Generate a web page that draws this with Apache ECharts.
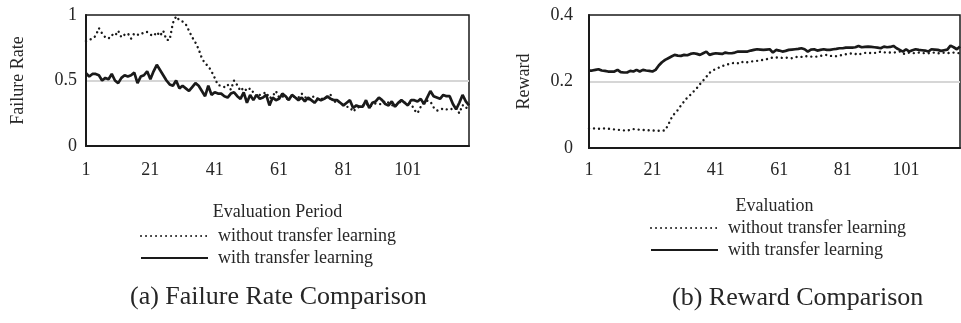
<!DOCTYPE html>
<html>
<head>
<meta charset="utf-8">
<script src="https://cdn.jsdelivr.net/npm/echarts@6/dist/echarts.min.js"></script>
<style>
  html, body { margin: 0; padding: 0; background: #fff; }
  #chart { width: 961px; height: 323px; }
</style>
</head>
<body>
<div id="chart"></div>
<script>
// (a) failure rate, 120 evaluation periods
const failWithout = [
  0.80, 0.81, 0.82, 0.84, 0.90, 0.86, 0.83, 0.82, 0.85, 0.84,
  0.88, 0.83, 0.85, 0.86, 0.82, 0.86, 0.85, 0.85, 0.87, 0.87,
  0.85, 0.84, 0.87, 0.84, 0.88, 0.81, 0.81, 0.94, 0.99, 0.96,
  0.95, 0.93, 0.88, 0.83, 0.79, 0.74, 0.67, 0.63, 0.61, 0.57,
  0.52, 0.465, 0.46, 0.45, 0.47, 0.43, 0.50, 0.465, 0.42, 0.445,
  0.42, 0.44, 0.41, 0.376, 0.39, 0.40, 0.41, 0.364, 0.38, 0.42,
  0.37, 0.38, 0.364, 0.356, 0.39, 0.37, 0.37, 0.40, 0.376, 0.35,
  0.37, 0.38, 0.36, 0.356, 0.37, 0.37, 0.39, 0.33, 0.35, 0.326,
  0.31, 0.30, 0.295, 0.262, 0.288, 0.30, 0.31, 0.326, 0.30, 0.31,
  0.326, 0.32, 0.32, 0.346, 0.33, 0.313, 0.30, 0.33, 0.338, 0.33,
  0.33, 0.326, 0.275, 0.25, 0.30, 0.338, 0.346, 0.34, 0.295, 0.27,
  0.275, 0.288, 0.28, 0.275, 0.288, 0.288, 0.25, 0.313, 0.288, 0.305
];
const failWith = [
  0.555, 0.53, 0.55, 0.55, 0.54, 0.50, 0.52, 0.51, 0.55, 0.50,
  0.48, 0.52, 0.54, 0.53, 0.54, 0.56, 0.48, 0.53, 0.54, 0.57,
  0.51, 0.57, 0.62, 0.58, 0.54, 0.50, 0.47, 0.46, 0.50, 0.44,
  0.46, 0.44, 0.42, 0.45, 0.48, 0.46, 0.42, 0.38, 0.46, 0.39,
  0.41, 0.40, 0.40, 0.38, 0.37, 0.40, 0.41, 0.38, 0.36, 0.41,
  0.33, 0.39, 0.35, 0.39, 0.36, 0.37, 0.39, 0.31, 0.37, 0.35,
  0.36, 0.40, 0.38, 0.35, 0.39, 0.37, 0.35, 0.37, 0.34, 0.37,
  0.35, 0.33, 0.36, 0.35, 0.36, 0.38, 0.36, 0.35, 0.35, 0.33,
  0.31, 0.33, 0.35, 0.29, 0.31, 0.30, 0.30, 0.35, 0.29, 0.33,
  0.34, 0.37, 0.35, 0.32, 0.31, 0.34, 0.30, 0.33, 0.35, 0.33,
  0.31, 0.35, 0.35, 0.34, 0.36, 0.32, 0.37, 0.42, 0.38, 0.37,
  0.36, 0.39, 0.38, 0.38, 0.32, 0.28, 0.33, 0.39, 0.34, 0.31
];

// (b) reward, 118 evaluations
const rewardWithout = [
  0.059, 0.059, 0.059, 0.058, 0.058, 0.059, 0.058, 0.057, 0.056, 0.055,
  0.054, 0.053, 0.052, 0.055, 0.057, 0.056, 0.055, 0.054, 0.054, 0.053,
  0.053, 0.052, 0.052, 0.052, 0.053, 0.070, 0.090, 0.104, 0.114, 0.128,
  0.140, 0.152, 0.160, 0.170, 0.180, 0.192, 0.203, 0.214, 0.226, 0.233,
  0.238, 0.242, 0.246, 0.250, 0.252, 0.255, 0.256, 0.255, 0.260, 0.256,
  0.258, 0.260, 0.261, 0.262, 0.264, 0.265, 0.267, 0.270, 0.272, 0.272,
  0.272, 0.271, 0.272, 0.271, 0.270, 0.273, 0.275, 0.274, 0.277, 0.275,
  0.275, 0.274, 0.275, 0.277, 0.279, 0.280, 0.277, 0.277, 0.276, 0.278,
  0.280, 0.282, 0.283, 0.285, 0.283, 0.280, 0.285, 0.286, 0.287, 0.285,
  0.286, 0.287, 0.290, 0.288, 0.287, 0.287, 0.287, 0.288, 0.290, 0.283,
  0.284, 0.287, 0.285, 0.286, 0.287, 0.286, 0.285, 0.285, 0.286, 0.287,
  0.285, 0.285, 0.287, 0.286, 0.285, 0.287, 0.286, 0.285
];
const rewardWith = [
  0.233, 0.233, 0.235, 0.237, 0.233, 0.232, 0.230, 0.230, 0.230, 0.235,
  0.228, 0.227, 0.227, 0.232, 0.230, 0.235, 0.230, 0.235, 0.233, 0.232,
  0.230, 0.235, 0.248, 0.258, 0.265, 0.270, 0.275, 0.280, 0.278, 0.277,
  0.280, 0.279, 0.283, 0.285, 0.283, 0.280, 0.285, 0.290, 0.280, 0.283,
  0.285, 0.284, 0.283, 0.287, 0.285, 0.285, 0.287, 0.290, 0.290, 0.290,
  0.290, 0.293, 0.295, 0.297, 0.296, 0.295, 0.296, 0.297, 0.287, 0.295,
  0.293, 0.290, 0.292, 0.295, 0.296, 0.297, 0.298, 0.300, 0.297, 0.290,
  0.296, 0.297, 0.293, 0.295, 0.297, 0.295, 0.295, 0.297, 0.298, 0.300,
  0.300, 0.302, 0.302, 0.302, 0.303, 0.307, 0.303, 0.304, 0.305, 0.304,
  0.303, 0.302, 0.300, 0.305, 0.303, 0.304, 0.307, 0.300, 0.295, 0.290,
  0.297, 0.290, 0.294, 0.297, 0.295, 0.294, 0.293, 0.290, 0.297, 0.296,
  0.295, 0.292, 0.294, 0.296, 0.308, 0.303, 0.297, 0.305
];

const periodsA = failWith.map((v, i) => String(i + 1));
const periodsB = rewardWith.map((v, i) => String(i + 1));

const seriesNames = ['without transfer learning', 'with transfer learning'];
const captions = ['(a) Failure Rate Comparison', '(b) Reward Comparison'];

const FONT = '"Liberation Serif", "Times New Roman", serif';
const INK = '#1a1a1a';
const TXT = '#262626';

const chart = echarts.init(document.getElementById('chart'), null, { renderer: 'canvas' });

const xAxisBase = (gridIndex, data, name, nameGap, margin) => ({
  type: 'category',
  gridIndex: gridIndex,
  data: data,
  boundaryGap: false,
  name: name,
  nameLocation: 'middle',
  nameGap: nameGap,
  nameTextStyle: { fontFamily: FONT, fontSize: 18, color: TXT },
  axisLine: { lineStyle: { color: INK, width: 2 } },
  axisTick: { show: false },
  axisLabel: { interval: 19, margin: margin, fontFamily: FONT, fontSize: 18, color: TXT },
  splitLine: { show: false }
});

const yAxisBase = (gridIndex, max, interval, name, nameGap, margin) => ({
  type: 'value',
  gridIndex: gridIndex,
  min: 0,
  max: max,
  interval: interval,
  name: name,
  nameLocation: 'middle',
  nameGap: nameGap,
  nameTextStyle: { fontFamily: FONT, fontSize: 18, color: TXT },
  axisLine: { show: true, lineStyle: { color: INK, width: 2 } },
  axisTick: { show: false },
  axisLabel: { margin: margin, fontFamily: FONT, fontSize: 18, color: TXT },
  splitLine: { show: true, showMinLine: false, showMaxLine: false, lineStyle: { color: '#d6d6d6', width: 2 } }
});

// round dots for the "without" runs
const dotted = { color: INK, width: 2.4, type: [0.01, 5], cap: 'round' };
const solid = { color: INK, width: 2.7 };

const lineSeries = (name, xi, data, style) => ({
  name: name,
  type: 'line',
  xAxisIndex: xi,
  yAxisIndex: xi,
  data: data,
  symbol: 'none',
  showSymbol: false,
  itemStyle: { color: INK },
  lineStyle: style,
  animation: false
});

const legendBase = (left, top) => ({
  orient: 'vertical',
  left: left,
  top: top,
  padding: 0,
  data: seriesNames,
  itemWidth: 67,
  itemHeight: 12,
  itemGap: 4,
  selectedMode: false,
  itemStyle: { opacity: 0 }, // hide the circle echarts puts on line icons
  textStyle: { fontFamily: FONT, fontSize: 18, color: TXT, padding: [0, 0, 0, 5] }
});

const options = {
  backgroundColor: '#fff',
  animation: false,
  grid: [
    { left: 86, top: 15, width: 383, height: 131, show: true, borderColor: INK, borderWidth: 1.5 },
    { left: 589, top: 15, width: 371, height: 133, show: true, borderColor: INK, borderWidth: 1.5 }
  ],
  xAxis: [
    xAxisBase(0, periodsA, 'Evaluation Period', 57, 15),
    xAxisBase(1, periodsB, 'Evaluation', 49, 13)
  ],
  yAxis: [
    yAxisBase(0, 1, 0.5, 'Failure Rate', 59, 9),
    yAxisBase(1, 0.4, 0.2, 'Reward', 56, 16)
  ],
  legend: [legendBase(140, 227), legendBase(650, 219)],
  series: [
    lineSeries(seriesNames[0], 0, failWithout, dotted),
    lineSeries(seriesNames[1], 0, failWith, solid),
    lineSeries(seriesNames[0], 1, rewardWithout, dotted),
    lineSeries(seriesNames[1], 1, rewardWith, solid)
  ],
  graphic: [
    {
      type: 'text', left: 130, top: 284,
      style: { text: captions[0], font: '26px ' + FONT, fill: TXT }
    },
    {
      type: 'text', left: 672, top: 285,
      style: { text: captions[1], font: '26px ' + FONT, fill: TXT }
    }
  ]
};

chart.setOption(options);

window.addEventListener('resize', () => {
  chart.resize();
});
</script>
</body>
</html>
